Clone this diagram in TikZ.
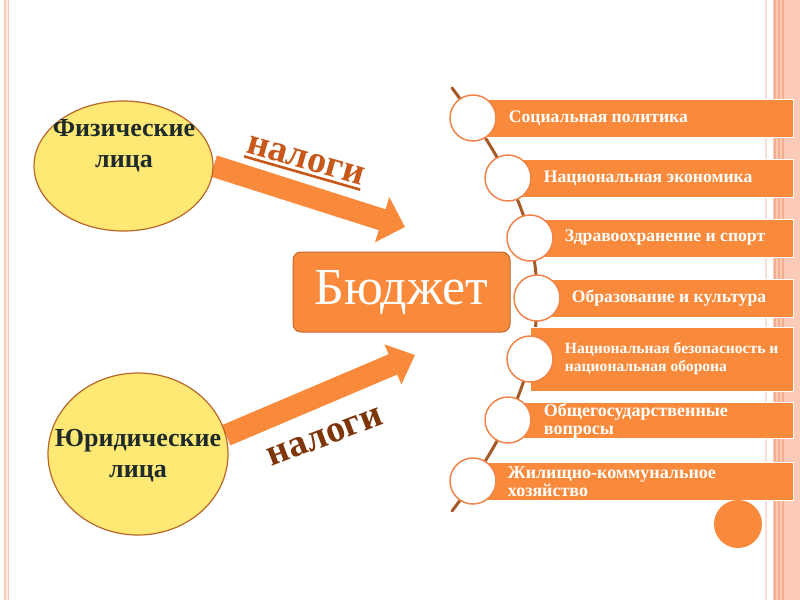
\documentclass[tikz,border=0pt]{standalone}
\usepackage{fontspec}
\setmainfont{Liberation Serif}
\usetikzlibrary{shapes.geometric, arrows.meta, positioning, backgrounds}
\newcommand{\ulword}[1]{\vtop{\hbox{#1}\kern2.5pt\hrule height 2.6pt}}
\definecolor{barorange}{HTML}{FA8A3B}
\definecolor{ringorange}{HTML}{F0844A}
\definecolor{edgebrown}{HTML}{C4692F}
\definecolor{spinebrown}{HTML}{A65A28}
\definecolor{personfill}{HTML}{FFE873}
\definecolor{personedge}{HTML}{B8672A}
\definecolor{persontext}{HTML}{1F2B2B}
\definecolor{taxorange}{HTML}{C8581A}
\definecolor{taxbrown}{HTML}{7E3508}
\definecolor{bandpink}{HTML}{FCCBB8}
\definecolor{stripepink}{HTML}{F3AD90}
\tikzset{
  person/.style={ellipse, draw=personedge, fill=personfill, line width=1.2pt,
                 minimum width=179pt, minimum height=130pt, inner sep=0pt},
  personlabel/.style={text=persontext, align=center, inner sep=0pt,
                      font=\fontsize{26}{31}\selectfont\bfseries},
  budget/.style={rectangle, draw=edgebrown, fill=barorange, rounded corners=8pt,
                 line width=1pt, minimum width=217pt, minimum height=80pt,
                 text=white, font=\fontsize{52}{56}\selectfont},
  taxarrow/.style={draw=barorange, line width=22pt,
                   -{Triangle[length=24pt, width=46pt]}},
  taxlabel/.style={font=\fontsize{38}{40}\selectfont\bfseries, inner sep=1pt},
}

\begin{document}
\begin{tikzpicture}[x=1pt, y=-1pt,
  bar/.style={rectangle, draw=white, line width=0.8pt, fill=barorange,
              anchor=west, minimum height=38pt, inner sep=0pt},
  ring/.style={circle, draw=ringorange, fill=white, line width=1.5pt,
               minimum size=46pt, inner sep=0pt},
  bartext/.style={text=white, align=left, inner sep=0pt,
                  font=\fontsize{17.6}{20}\selectfont\bfseries},
  bigtext/.style={font=\fontsize{18}{18}\selectfont\bfseries},
  spine/.style={draw=spinebrown, line width=3pt, line cap=round}
]
  \useasboundingbox (0,0) rectangle (800,600);

  % people
  \node[person] (fiz) at (123.5,166) {};
  \node[personlabel] (fiz-t) at (124,146) {Физические\\лица};
  \node[person, minimum width=180pt, minimum height=162pt] (jur) at (138,454) {};
  \node[personlabel] (jur-t) at (138,456) {Юридические\\лица};

  \node[budget] (bud) at (401.5,292) {Бюджет};

  \coordinate (tip1) at (405,227);
  \coordinate (tip2) at (415,355);

  \node[taxlabel, text=taxorange, rotate=-16] (tax1) at (305,163) {\ulword{налоги}};
  \node[taxlabel, text=taxbrown, rotate=21] (tax2) at (325,437) {налоги};

  % expenditure list
  \node[ring] (s1) at (473,118) {};
  \node[ring] (s2) at (508,178) {};
  \node[ring] (s3) at (530,238) {};
  \node[ring] (s4) at (537,298) {};
  \node[ring] (s5) at (530,359) {};
  \node[ring] (s6) at (508,420) {};
  \node[ring] (s7) at (473,481) {};
  \coordinate (spine-top) at (452,88);
  \coordinate (spine-bot) at (452,511);

  \node[bartext, right=12pt of s1] (t1) {Социальная политика};
  \node[bartext, right=12pt of s2] (t2) {Национальная экономика};
  \node[bartext, right=11pt of s3] (t3) {Здравоохранение и спорт};
  \node[bartext, right=11pt of s4] (t4) {Образование и культура};
  \node[bartext, right=11pt of s5, font=\fontsize{15.6}{18}\selectfont\bfseries] (t5)
    {Национальная безопасность и\\национальная оборона};
  \node[bartext, bigtext, right=12pt of s6, yshift=-1pt] (t6)
    {Общегосударственные\\вопросы};
  \node[bartext, bigtext, right=11pt of s7, yshift=-1pt] (t7)
    {Жилищно-коммунальное\\хозяйство};

  \node[circle, fill=barorange, minimum size=48pt, inner sep=0pt] (dot) at (738,524) {};

  \begin{scope}[on background layer]
    \fill[white] (0,0) rectangle (800,600);
    % slide borders
    \fill[bandpink] (4,0) rectangle (9,600);
    \fill[white!60!bandpink] (5.5,0) rectangle (7.5,600);
    \fill[white!40!bandpink] (765,0) rectangle (767,600);
    \fill[bandpink] (773,0) rectangle (800,600);
    \foreach \sx in {774,778,782}
      \fill[stripepink] (\sx,0) rectangle (\sx+1.6,600);

    \draw[spine] plot[smooth, tension=0.6] coordinates {(spine-top) (s1.center)
      (s2.center) (s3.center) (s4.center) (s5.center) (s6.center) (s7.center) (spine-bot)};

    \draw[taxarrow] (fiz.east) -- (tip1);
    \draw[taxarrow, -{Triangle[length=24pt, width=42pt]}] (jur.12) -- (tip2);

    \node[bar, minimum width=320pt] (b1) at (s1.center) {};
    \node[bar, minimum width=285pt] (b2) at (s2.center) {};
    \node[bar, minimum width=263pt] (b3) at (s3.center) {};
    \node[bar, minimum width=256pt] (b4) at (s4.center) {};
    \node[bar, minimum width=263pt, minimum height=64pt] (b5) at (s5.center) {};
    \node[bar, minimum width=285pt, minimum height=36pt] (b6) at (s6.center) {};
    \node[bar, minimum width=320pt] (b7) at (s7.center) {};
  \end{scope}
\end{tikzpicture}
\end{document}
